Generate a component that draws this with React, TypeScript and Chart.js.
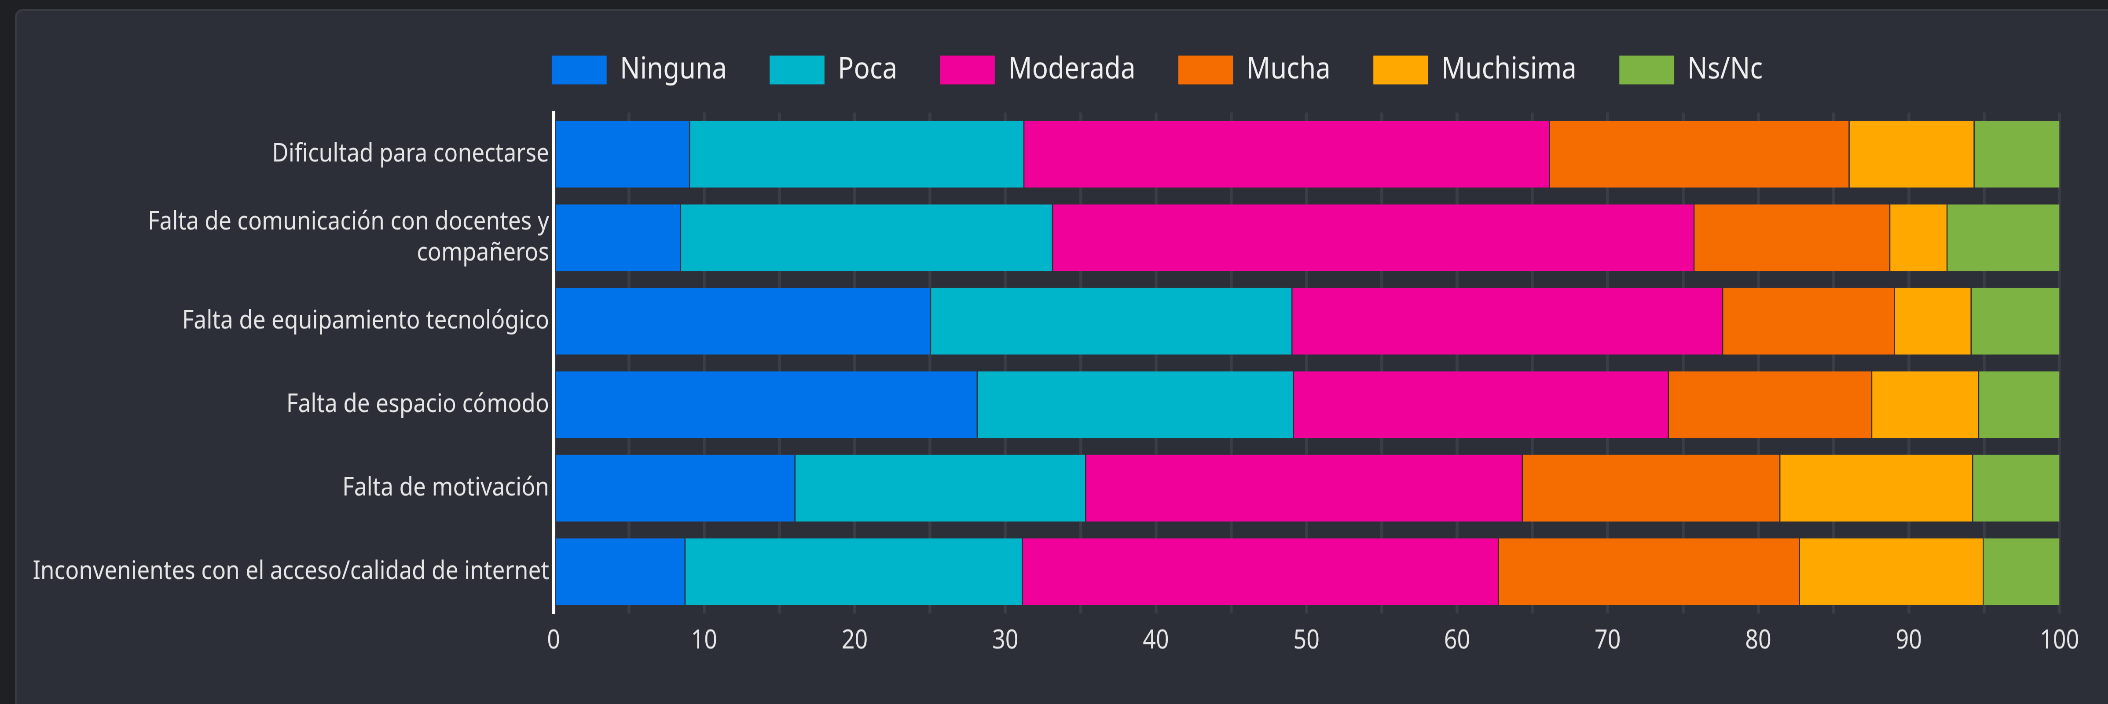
import React, { useEffect, useRef } from 'react';
import { Chart, registerables } from 'chart.js';

Chart.register(...registerables);

// ---- data ----
const categories: (string | string[])[] = [
  'Dificultad para conectarse',
  ['Falta de comunicación con docentes y', 'compañeros'],
  'Falta de equipamiento tecnológico',
  'Falta de espacio cómodo',
  'Falta de motivación',
  'Inconvenientes con el acceso/calidad de internet',
];
const seriesNames = ['Ninguna', 'Poca', 'Moderada', 'Mucha', 'Muchisima', 'Ns/Nc'];
const ninguna = [9.0, 8.4, 25.0, 28.1, 16.0, 8.7];
const poca = [22.2, 24.7, 24.0, 21.0, 19.3, 22.4];
const moderada = [34.9, 42.6, 28.6, 24.9, 29.0, 31.6];
const mucha = [19.9, 13.0, 11.4, 13.5, 17.1, 20.0];
const muchisima = [8.3, 3.8, 5.1, 7.1, 12.8, 12.2];
const nsnc = [5.7, 7.5, 5.9, 5.4, 5.8, 5.1];
const seriesColors = ['#0073ea', '#00b5c9', '#f0019a', '#f56d00', '#ffa800', '#7cb342'];
const xMin = 0;
const xMax = 100;
const xGridStep = 5;
const xLabelStep = 10;

// ---- layout (internal canvas px; horizontally compressed on screen) ----
const SX = 0.88;
const W = 2630;
const H = 704;
const Y_AXIS_W = 629;
const RIGHT_W = 289.7;
const LEGEND_GAP = 17.5;
const FONT = "'Noto Sans', 'Open Sans', sans-serif";

export default function App() {
  const ref = useRef<HTMLCanvasElement | null>(null);

  useEffect(() => {
    const canvas = ref.current;
    if (!canvas) return;
    const values = [ninguna, poca, moderada, mucha, muchisima, nsnc];

    const legendGap = {
      id: 'legendGap',
      beforeInit(chart: any) {
        const legend = chart.legend;
        if (!legend) return;
        const fit = legend.fit;
        legend.fit = function () {
          fit.call(this);
          this.height += LEGEND_GAP;
        };
      },
    };

    const chart = new Chart(canvas, {
      type: 'bar',
      data: {
        labels: categories as any,
        datasets: seriesNames.map((name, i) => ({
          label: name,
          data: values[i],
          backgroundColor: seriesColors[i],
          borderColor: 'rgba(45,45,50,0.9)',
          borderWidth: { left: 1.2, right: 0, top: 0, bottom: 0 },
          borderSkipped: false,
          barPercentage: 1,
          categoryPercentage: 0.8,
          xAxisID: 'x',
          yAxisID: 'y',
        })),
      },
      options: {
        indexAxis: 'y',
        responsive: false,
        animation: false,
        devicePixelRatio: 2,
        layout: { padding: { top: 6.5, left: 0, right: 0, bottom: 35 } },
        plugins: {
          tooltip: { enabled: false },
          legend: {
            display: true,
            position: 'top',
            align: 'center',
            labels: {
              color: '#f0f0f0',
              font: { family: FONT, size: 30 },
              boxWidth: 62.6,
              boxHeight: 29,
              padding: 48.5,
            },
          },
        },
        scales: {
          x: {
            type: 'linear',
            stacked: true,
            min: xMin,
            max: xMax,
            grid: { display: true, color: '#3b3d46', lineWidth: 3.4, drawTicks: false },
            border: { display: false },
            ticks: {
              stepSize: xGridStep,
              autoSkip: false,
              color: '#e6e6e6',
              padding: 12.2,
              font: { family: FONT, size: 26 },
              callback: (v: any) => (Number(v) % xLabelStep === 0 ? String(v) : ''),
            },
          },
          y: {
            type: 'category',
            stacked: true,
            position: 'left',
            grid: { display: false, drawTicks: false },
            border: { display: true, color: '#ffffff', width: 3.4, z: 1 },
            ticks: {
              color: '#e6e6e6',
              padding: 5,
              font: { family: FONT, size: 25.7 },
            },
            afterFit: (s: any) => {
              s.width = Y_AXIS_W;
            },
          },
          pad: {
            type: 'linear',
            axis: 'y',
            position: 'right',
            display: true,
            grid: { display: false, drawTicks: false },
            border: { display: false },
            ticks: { display: false },
            afterFit: (s: any) => {
              s.width = RIGHT_W;
            },
          },
        } as any,
      },
      plugins: [legendGap],
    } as any);

    return () => chart.destroy();
  }, []);

  return (
    <div
      style={{
        position: 'fixed',
        left: 0,
        top: 0,
        width: 2108,
        height: 704,
        overflow: 'hidden',
        background: '#1f2024',
      }}
    >
      <div
        style={{
          position: 'absolute',
          left: 15,
          top: 9,
          width: 2300,
          height: 900,
          background: '#2c2f38',
          border: '2px solid #393b44',
          borderRadius: 8,
          boxSizing: 'border-box',
        }}
      />
      <div
        style={{
          position: 'absolute',
          left: 0,
          top: 0,
          width: W,
          height: H,
          transform: `scale(${SX}, 1)`,
          transformOrigin: '0 0',
        }}
      >
        <canvas ref={ref} width={W} height={H} style={{ width: W, height: H }} />
      </div>
    </div>
  );
}
